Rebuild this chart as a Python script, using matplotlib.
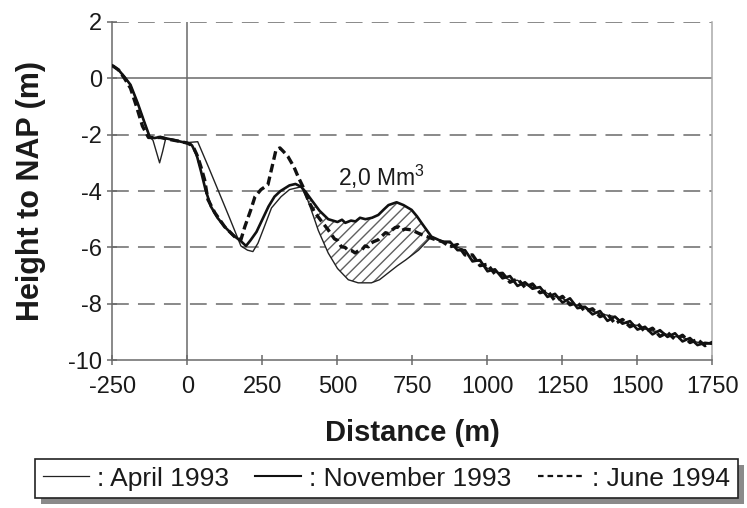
import matplotlib
matplotlib.use("Agg")
import matplotlib.pyplot as plt
from matplotlib.lines import Line2D
from matplotlib.patches import Rectangle
import numpy as np

plt.rcParams['font.family'] = ['Liberation Sans', 'DejaVu Sans']
plt.rcParams['axes.unicode_minus'] = False
plt.rcParams['hatch.linewidth'] = 1.0
plt.rcParams['mathtext.fontset'] = 'custom'
plt.rcParams['mathtext.rm'] = 'Liberation Sans'
plt.rcParams['mathtext.default'] = 'regular'

# ---- cross-shore profiles (distance in m, height in m to NAP) ----
# nearshore parts
apr_x = [-250, -230, -210, -190, -166, -143, -126, -115, -104, -93, -83, -73,
         -50, -22, 0, 34, 70, 107, 140, 178, 200, 218, 235, 255, 280, 312,
         340, 379, 400, 420, 436, 469, 500, 536, 569, 613, 640, 670, 700,
         727, 770, 813, 830]
apr_y = [0.45, 0.30, 0.05, -0.23, -0.88, -1.58, -2.08, -2.20, -2.60, -3.00,
         -2.60, -2.15, -2.18, -2.25, -2.28, -2.25, -3.15, -4.10, -4.95, -5.95,
         -6.10, -6.15, -5.85, -5.30, -4.60, -4.20, -3.95, -3.85, -4.30, -4.90,
         -5.40, -6.20, -6.75, -7.15, -7.26, -7.26, -7.15, -6.90, -6.65, -6.45,
         -6.10, -5.62, -5.72]

nov_x = [-250, -230, -210, -190, -166, -143, -126, -110, -90, -76, -50, -22,
         0, 15, 30, 45, 60, 78, 100, 124, 150, 178, 195, 210, 230, 250, 270,
         290, 310, 340, 360, 379, 395, 412, 440, 469, 500, 515, 526, 545, 560,
         575, 593, 615, 636, 655, 670, 697, 720, 747, 765, 780, 813, 830]
nov_y = [0.45, 0.30, 0.05, -0.23, -0.88, -1.58, -2.08, -2.12, -2.08, -2.12,
         -2.18, -2.25, -2.30, -2.38, -2.70, -3.30, -3.95, -4.55, -4.95, -5.27,
         -5.55, -5.78, -5.95, -5.75, -5.45, -5.00, -4.55, -4.20, -4.00, -3.80,
         -3.75, -3.85, -4.05, -4.30, -4.70, -5.00, -5.10, -5.02, -5.13, -5.05,
         -5.08, -4.95, -5.00, -4.95, -4.85, -4.65, -4.50, -4.40, -4.50, -4.67,
         -4.90, -5.13, -5.62, -5.70]

jun_x = [-250, -230, -210, -190, -170, -150, -130, -110, -90, -70, -45, -20,
         0, 11, 22, 34, 45, 57, 68, 91, 124, 157, 178, 191, 210, 225, 245,
         268, 285, 295, 308, 320, 335, 355, 369, 385, 405, 425, 445, 469, 480,
         490, 500, 513, 525, 535, 548, 559, 570, 580, 592, 603, 612, 620, 636,
         648, 660, 672, 680, 692, 703, 715, 725, 747, 770, 793, 827]
jun_y = [0.45, 0.30, 0.00, -0.35, -1.00, -1.70, -2.10, -2.10, -2.10, -2.15,
         -2.20, -2.25, -2.30, -2.36, -2.50, -2.78, -3.15, -3.60, -4.30, -4.77,
         -5.27, -5.62, -5.73, -5.27, -4.70, -4.20, -3.95, -3.78, -3.00, -2.54,
         -2.47, -2.60, -2.78, -3.15, -3.50, -3.85, -4.40, -4.77, -5.05, -5.38,
         -5.55, -5.70, -5.75, -5.98, -6.00, -6.10, -6.12, -6.20, -6.12, -6.10,
         -5.95, -5.98, -5.85, -5.80, -5.73, -5.60, -5.48, -5.52, -5.40, -5.30,
         -5.27, -5.40, -5.35, -5.38, -5.50, -5.60, -5.73]

# offshore parts (common distances)
off_x = [850, 875, 900, 925, 950, 975, 1000, 1025, 1050, 1075, 1100, 1125,
         1150, 1175, 1200, 1225, 1250, 1275, 1300, 1325, 1350, 1375, 1400,
         1425, 1450, 1475, 1500, 1525, 1550, 1575, 1600, 1625, 1650, 1675,
         1700, 1725, 1750]
apr_off = [-5.80, -5.85, -6.00, -6.10, -6.45, -6.50, -6.75, -6.85, -7.02,
           -7.17, -7.17, -7.32, -7.42, -7.43, -7.64, -7.75, -7.81, -7.96,
           -8.06, -8.11, -8.26, -8.36, -8.41, -8.46, -8.66, -8.74, -8.77,
           -8.90, -8.97, -8.99, -9.10, -9.17, -9.19, -9.30, -9.37, -9.44, -9.42]
nov_off = [-5.80, -5.80, -6.10, -6.10, -6.50, -6.45, -6.85, -6.78, -7.10,
           -7.02, -7.37, -7.24, -7.47, -7.41, -7.76, -7.65, -7.96, -7.81,
           -8.16, -8.11, -8.38, -8.26, -8.61, -8.46, -8.71, -8.62, -8.92,
           -8.82, -9.09, -8.94, -9.18, -9.05, -9.34, -9.22, -9.47, -9.39, -9.42]
jun_off = [-5.80, -5.98, -5.90, -6.27, -6.27, -6.65, -6.60, -6.95, -6.92,
           -7.24, -7.12, -7.42, -7.30, -7.61, -7.54, -7.90, -7.74, -8.04,
           -7.96, -8.28, -8.18, -8.46, -8.36, -8.71, -8.56, -8.82, -8.70,
           -9.00, -8.87, -9.16, -9.02, -9.27, -9.12, -9.38, -9.27, -9.49, -9.37]

# nourishment zone, bounded by the Nov 1993 and Apr 1993 profiles
nour_start, nour_end = 379, 813
nour_volume = "2,0 Mm$^3$"

x_ticks = [-250, 0, 250, 500, 750, 1000, 1250, 1500, 1750]
y_ticks = [-10, -8, -6, -4, -2, 0, 2]
labels = [": April 1993", ": November 1993", ": June 1994"]

# ---- figure ----
fig = plt.figure(figsize=(7.47, 5.08), dpi=100)
ax = fig.add_axes([0.1506, 0.2913, 0.8032, 0.6654])

ax.set_xlim(-250, 1750)
ax.set_ylim(-10, 2)
ax.set_xticks(x_ticks)
ax.set_yticks(y_ticks)

grid_c = '#6a6a6a'
for yv in [2, -2, -4, -6, -8]:
    ax.axhline(yv, color=grid_c, lw=1.1, ls=(0, (11, 6)), zorder=1)
ax.axhline(0, color=grid_c, lw=1.1, zorder=1)
ax.axvline(0, color=grid_c, lw=1.1, zorder=1)

ax.spines['top'].set_visible(False)
ax.spines['left'].set_color(grid_c)
ax.spines['bottom'].set_color(grid_c)
ax.spines['right'].set_color('#aaaaaa')
for s in ['left', 'bottom', 'right']:
    ax.spines[s].set_linewidth(1.1)

ax.tick_params(axis='both', direction='inout', length=7, width=1.1,
               color=grid_c, labelsize=17, labelcolor='#1a1a1a')
ax.tick_params(axis='x', pad=8)
ax.tick_params(axis='y', pad=4)

# full profiles
xa = np.array(apr_x + off_x)
ya = np.array(apr_y + apr_off)
xn = np.array(nov_x + off_x)
yn = np.array(nov_y + nov_off)
xj = np.array(jun_x + off_x)
yj = np.array(jun_y + jun_off)

# hatched nourishment volume
mn = (xn >= nour_start) & (xn <= nour_end)
ma = (xa >= nour_start) & (xa <= nour_end)
poly_x = np.concatenate([xn[mn], xa[ma][::-1]])
poly_y = np.concatenate([yn[mn], ya[ma][::-1]])
ax.fill(poly_x, poly_y, facecolor='white', edgecolor='#606060', lw=0,
        hatch='///', zorder=2)

ax.plot(xa, ya, color='#222222', lw=1.0, zorder=3)
ax.plot(xn, yn, color='#111111', lw=1.9, zorder=4)
ax.plot(xj, yj, color='#111111', lw=2.4, ls=(0, (2.6, 1.3)), zorder=5)

ax.text(645, -3.5, nour_volume, fontsize=16.5, ha='center', va='center',
        color='#1a1a1a', zorder=6)

ax.set_xlabel('Distance (m)', fontsize=21, fontweight='bold', color='#1a1a1a',
              labelpad=15)
ax.set_ylabel('Height to NAP (m)', fontsize=22, fontweight='bold',
              color='#1a1a1a', labelpad=16)

handles = [Line2D([], [], color='#222222', lw=0.9),
           Line2D([], [], color='#111111', lw=1.5),
           Line2D([], [], color='#111111', lw=1.6, ls=(0, (2.5, 1.8)))]
leg = fig.legend(handles, labels, loc='center', bbox_to_anchor=(0.517, 0.058),
                 ncol=3, fontsize=19, frameon=True, fancybox=False,
                 handlelength=1.75, handletextpad=0.3, columnspacing=1.0,
                 borderpad=0.3, borderaxespad=0)
leg.get_frame().set_edgecolor('#222222')
leg.get_frame().set_linewidth(1.2)
leg.get_frame().set_facecolor('white')
leg.get_frame().set_alpha(1)
for t in leg.get_texts():
    t.set_color('#1a1a1a')

fig.canvas.draw()
bb = leg.get_window_extent()
shadow = Rectangle((bb.x0 + 6, bb.y0 - 6), bb.width, bb.height,
                   transform=None, facecolor='#8a8a8a', edgecolor='none',
                   zorder=leg.get_zorder() - 1)
fig.patches.append(shadow)

fig.savefig('out.png', dpi=100, facecolor='white')
